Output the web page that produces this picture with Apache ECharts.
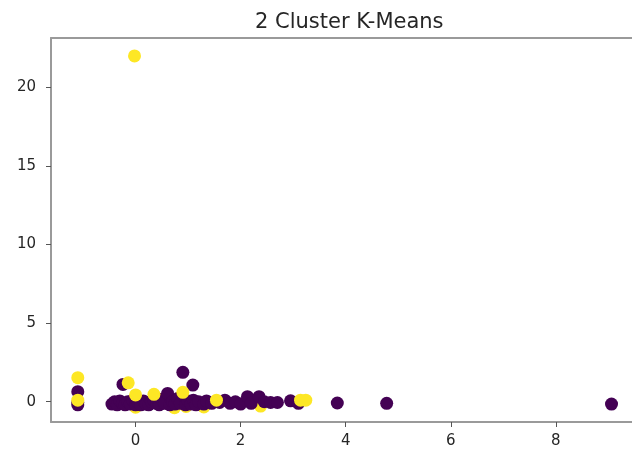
<!DOCTYPE html>
<html>
<head>
<meta charset="utf-8">
<script src="https://cdn.jsdelivr.net/npm/echarts@6/dist/echarts.min.js"></script>
<style>html,body{margin:0;padding:0;background:#fff}#c{width:632px;height:456px}</style>
</head>
<body>
<div id="c"></div>
<script>
// Cluster labels: 0 = purple, 1 = yellow. Drawing order matters (later on top).
const xs = [
  // yellow partly hidden under purple
  0.0, 0.74, 0.96, 1.3, 2.38,
  // purple
  -1.1, -1.1, -1.1, -0.24,
  -0.45, -0.4, -0.35, -0.3, -0.25, -0.2, -0.15, -0.1, -0.05, 0.0, 0.05, 0.1, 0.15, 0.2, 0.25, 0.3, 0.35,
  0.4, 0.45, 0.5, 0.55, 0.61, 0.65, 0.7, 0.75, 0.8, 0.85, 0.9, 0.95, 1.0, 1.05, 1.09, 1.1, 1.15, 1.2,
  1.3, 1.35, 1.45, 1.6, 1.7, 1.8, 1.9, 2.0, 2.13, 2.2, 2.35, 2.45, 2.57, 2.7, 2.95, 3.1, 3.84, 4.78, 9.06,
  // yellow on top
  -0.02, -1.1, -1.1, -0.14, 0.0, 0.35, 0.9, 1.54, 3.14, 3.24
];
const ys = [
  -0.35, -0.38, -0.3, -0.33, -0.28,
  0.64, -0.2, -0.05, 1.1,
  -0.15, 0.0, -0.2, 0.05, -0.1, -0.2, 0.0, -0.15, 0.1, -0.2, -0.05, -0.2, 0.05, -0.15, -0.2, 0.0, 0.1,
  -0.1, -0.2, 0.15, -0.1, 0.53, -0.2, 0.0, -0.15, 0.2, -0.1, 1.87, -0.2, 0.05, -0.15, 1.06, 0.1, -0.2, 0.0,
  -0.15, 0.05, -0.1, -0.05, 0.1, -0.1, 0.0, -0.15, 0.32, -0.1, 0.32, 0.0, -0.05, -0.05, 0.06, -0.1, -0.08, -0.1, -0.15,
  22.0, 1.53, 0.1, 1.2, 0.43, 0.47, 0.6, 0.1, 0.1, 0.1
];
const labels = [
  1, 1, 1, 1, 1,
  0, 0, 0, 0,
  0, 0, 0, 0, 0, 0, 0, 0, 0, 0, 0, 0, 0, 0, 0, 0, 0,
  0, 0, 0, 0, 0, 0, 0, 0, 0, 0, 0, 0, 0, 0, 0, 0, 0, 0,
  0, 0, 0, 0, 0, 0, 0, 0, 0, 0, 0, 0, 0, 0, 0, 0, 0, 0, 0,
  1, 1, 1, 1, 1, 1, 1, 1, 1, 1
];
const xTicks = [0, 2, 4, 6, 8];
const yTicks = [0, 5, 10, 15, 20];
const clusterColors = ['#440154', '#fde725'];
const titleText = '2 Cluster K-Means';

const data = xs.map((x, i) => [x, ys[i], labels[i]]);
const axisColor = '#9a9a9a';
const labelColor = '#262626';
const font = 'DejaVu Sans';

const chart = echarts.init(document.getElementById('c'), null, {renderer: 'canvas'});
chart.setOption({
  animation: false,
  backgroundColor: '#ffffff',
  title: {
    text: titleText, left: 250, top: 7,
    textStyle: {fontFamily: font, fontSize: 21, fontWeight: 'normal', color: labelColor}
  },
  grid: {left: 51, right: 0, top: 38, bottom: 34},
  xAxis: [{
    type: 'value', min: -1.61, max: 9.45, position: 'bottom',
    splitLine: {show: false},
    axisLine: {show: true, onZero: false, lineStyle: {color: axisColor, width: 2}},
    axisTick: {show: true, length: 5, customValues: xTicks, lineStyle: {color: '#555', width: 1}},
    axisLabel: {customValues: xTicks, margin: 12, fontFamily: font, fontSize: 15, color: labelColor}
  }, {
    type: 'value', min: -1.61, max: 9.45, position: 'top',
    splitLine: {show: false},
    axisLine: {show: true, onZero: false, lineStyle: {color: axisColor, width: 2}},
    axisTick: {show: false}, axisLabel: {show: false}
  }],
  yAxis: {
    type: 'value', min: -1.29, max: 23.14,
    splitLine: {show: false},
    axisLine: {show: true, onZero: false, lineStyle: {color: axisColor, width: 2}},
    axisTick: {show: true, length: 5, customValues: yTicks, lineStyle: {color: '#555', width: 1}},
    axisLabel: {customValues: yTicks, margin: 15, fontFamily: font, fontSize: 15, color: labelColor}
  },
  series: [{
    type: 'scatter',
    xAxisIndex: 0,
    symbolSize: 13,
    data: data,
    itemStyle: {opacity: 1, color: p => clusterColors[p.data[2]]}
  }]
});
</script>
</body>
</html>
